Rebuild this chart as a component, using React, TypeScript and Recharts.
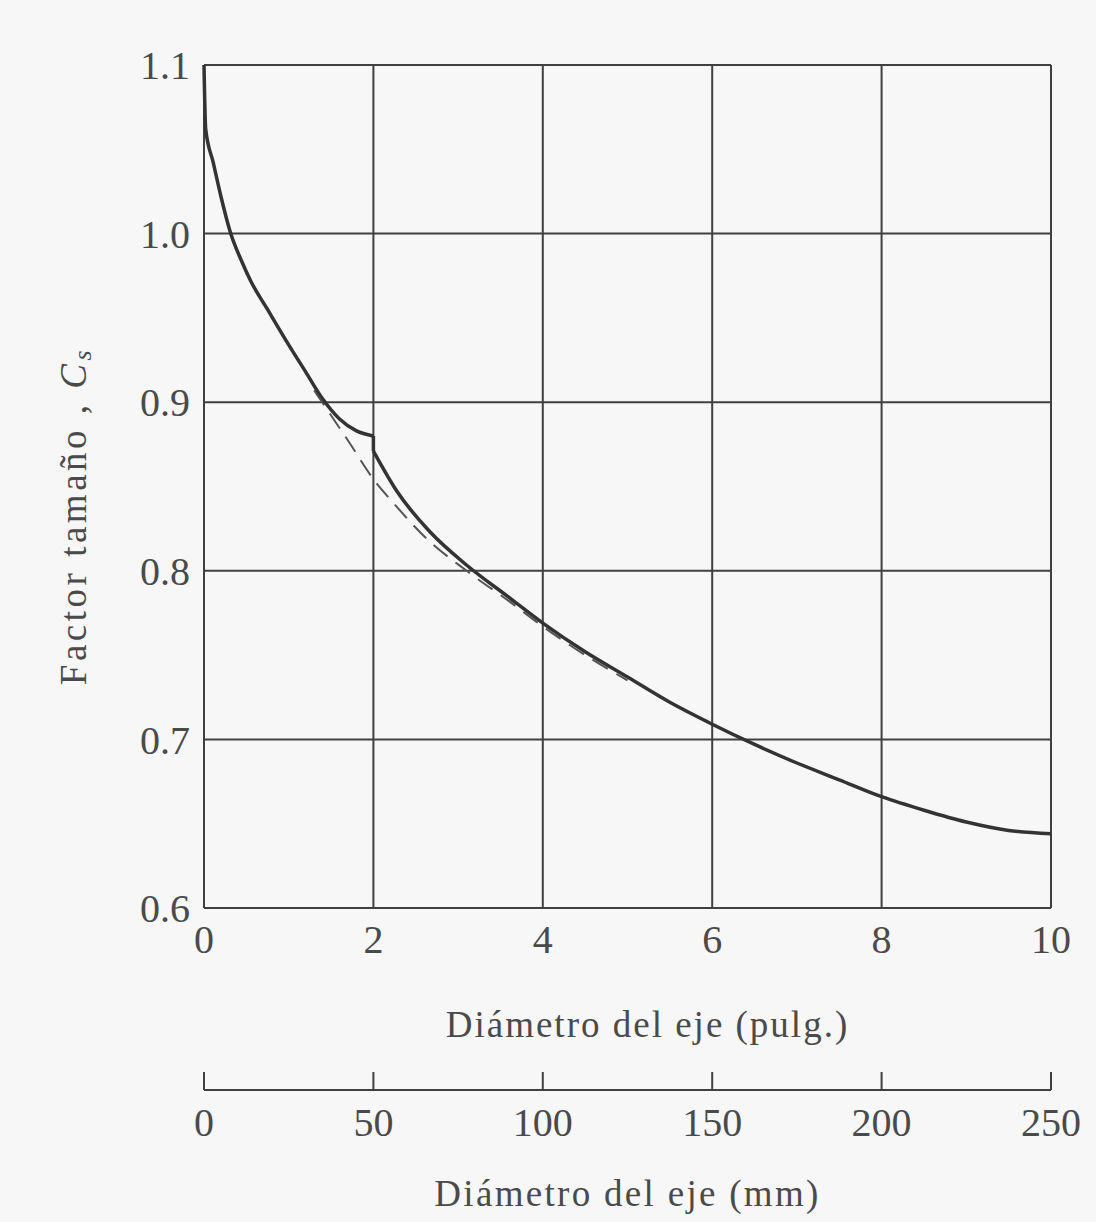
import { LineChart, Line, XAxis, YAxis, CartesianGrid } from "recharts";

// tick values
const inchTicks = [0, 2, 4, 6, 8, 10];
const mmTicks = [0, 50, 100, 150, 200, 250];
const factorTicks = [0.6, 0.7, 0.8, 0.9, 1.0, 1.1];

// solid curve, d <= 2 in
const smallD = [0, 0.02, 0.11, 0.2, 0.31, 0.45, 0.55, 0.75, 1.0, 1.2, 1.4, 1.6, 1.8, 2.0];
const smallCs = [1.1, 1.062, 1.042, 1.022, 1.001, 0.983, 0.972, 0.955, 0.934, 0.918, 0.902, 0.89, 0.883, 0.88];

// step at 2 in
const stepD = [2, 2];
const stepCs = [0.88, 0.871];

// solid curve, d >= 2 in
const largeD = [2.0, 2.28, 2.67, 3.11, 3.58, 4.0, 4.5, 5.0, 5.5, 6.0, 6.5, 7.0, 7.5, 8.0, 8.5, 9.0, 9.5, 10];
const largeCs = [0.871, 0.847, 0.823, 0.803, 0.785, 0.769, 0.752, 0.737, 0.722, 0.709, 0.697, 0.686, 0.676, 0.666, 0.658, 0.651, 0.646, 0.644];

// dashed fit
const fitD = [1.3, 1.69, 2.02, 2.24, 2.63, 3.1, 3.6, 4.0, 4.5, 5.0];
const fitCs = [0.907, 0.878, 0.853, 0.84, 0.819, 0.8, 0.782, 0.767, 0.75, 0.735];

const toRows = (xs: number[], ys: (number | null)[]) => xs.map((x, i) => ({ x, y: ys[i] }));

const FONT = "'Liberation Serif', 'Times New Roman', serif";
const INK = "#404040";
const CURVE = "#333";
const TEXT = "#4a4a4a";

function MmTick(props: any) {
  const { x, y, payload } = props;
  return (
    <g>
      <line x1={x} y1={y - 18} x2={x} y2={y} stroke={INK} strokeWidth={2} />
      <text x={x} y={y + 46} textAnchor="middle" fontSize={40} fontFamily={FONT} fill={TEXT}>
        {payload.value}
      </text>
    </g>
  );
}

export default function App() {
  return (
    <div style={{ position: "absolute", left: 0, top: 0, width: 1096, height: 1222, background: "#f7f7f7" }}>
      <style>{"body{margin:0}"}</style>
      <LineChart width={1096} height={1222} margin={{ top: 65, right: 45, bottom: 12, left: 0 }}>
        <CartesianGrid stroke={INK} strokeWidth={2} xAxisId="in" />
        <XAxis
          xAxisId="in"
          dataKey="x"
          type="number"
          domain={[0, 10]}
          ticks={inchTicks}
          height={182}
          tickLine={false}
          axisLine={false}
          tickSize={0}
          tickMargin={17}
          tick={{ fontSize: 40, fill: TEXT, fontFamily: FONT }}
          label={(p: any) => {
            const vb = p.viewBox;
            return (
              <text
                x={vb.x + vb.width / 2 + 20}
                y={vb.y + 129}
                textAnchor="middle"
                fontSize={37}
                letterSpacing={2}
                fontFamily={FONT}
                fill={TEXT}
              >
                Diámetro del eje (pulg.)
              </text>
            );
          }}
        />
        <XAxis
          xAxisId="mm"
          dataKey="x"
          type="number"
          domain={[0, 250]}
          ticks={mmTicks}
          height={120}
          axisLine={{ stroke: INK, strokeWidth: 2 }}
          tickLine={false}
          tickSize={0}
          tickMargin={0}
          tick={<MmTick />}
          label={(p: any) => {
            const vb = p.viewBox;
            return (
              <text
                x={vb.x + vb.width / 2}
                y={vb.y + 116}
                textAnchor="middle"
                fontSize={37}
                letterSpacing={2.3}
                fontFamily={FONT}
                fill={TEXT}
              >
                Diámetro del eje (mm)
              </text>
            );
          }}
        />
        <YAxis
          type="number"
          domain={[0.6, 1.1]}
          ticks={factorTicks}
          width={204}
          tickLine={false}
          axisLine={false}
          tickSize={0}
          tickMargin={14}
          tickFormatter={(v: number) => v.toFixed(1)}
          tick={{ fontSize: 40, fill: TEXT, fontFamily: FONT }}
          label={(p: any) => {
            const vb = p.viewBox;
            const cx = 73;
            const cy = vb.y + 451;
            return (
              <text
                x={cx}
                y={cy}
                transform={`rotate(-90, ${cx}, ${cy})`}
                textAnchor="middle"
                dominantBaseline="central"
                fontSize={37}
                letterSpacing={3.5}
                fontFamily={FONT}
                fill={TEXT}
              >
                Factor tamaño , <tspan fontStyle="italic">C</tspan>
                <tspan fontStyle="italic" fontSize={26} dy={9}>s</tspan>
              </text>
            );
          }}
        />
        {/* binds the mm scale so its ticks are drawn */}
        <Line
          xAxisId="mm"
          data={toRows(mmTicks, mmTicks.map(() => null))}
          dataKey="y"
          stroke="none"
          dot={false}
          legendType="none"
          isAnimationActive={false}
        />
        <Line
          xAxisId="in"
          data={toRows(fitD, fitCs)}
          dataKey="y"
          type="monotone"
          stroke="#555"
          strokeWidth={2}
          strokeDasharray="18 10"
          dot={false}
          isAnimationActive={false}
        />
        <Line
          xAxisId="in"
          data={toRows(smallD, smallCs)}
          dataKey="y"
          type="monotone"
          stroke={CURVE}
          strokeWidth={3.5}
          dot={false}
          isAnimationActive={false}
        />
        <Line
          xAxisId="in"
          data={toRows(stepD, stepCs)}
          dataKey="y"
          type="linear"
          stroke={CURVE}
          strokeWidth={3.5}
          dot={false}
          isAnimationActive={false}
        />
        <Line
          xAxisId="in"
          data={toRows(largeD, largeCs)}
          dataKey="y"
          type="monotone"
          stroke={CURVE}
          strokeWidth={3.5}
          dot={false}
          isAnimationActive={false}
        />
      </LineChart>
    </div>
  );
}
